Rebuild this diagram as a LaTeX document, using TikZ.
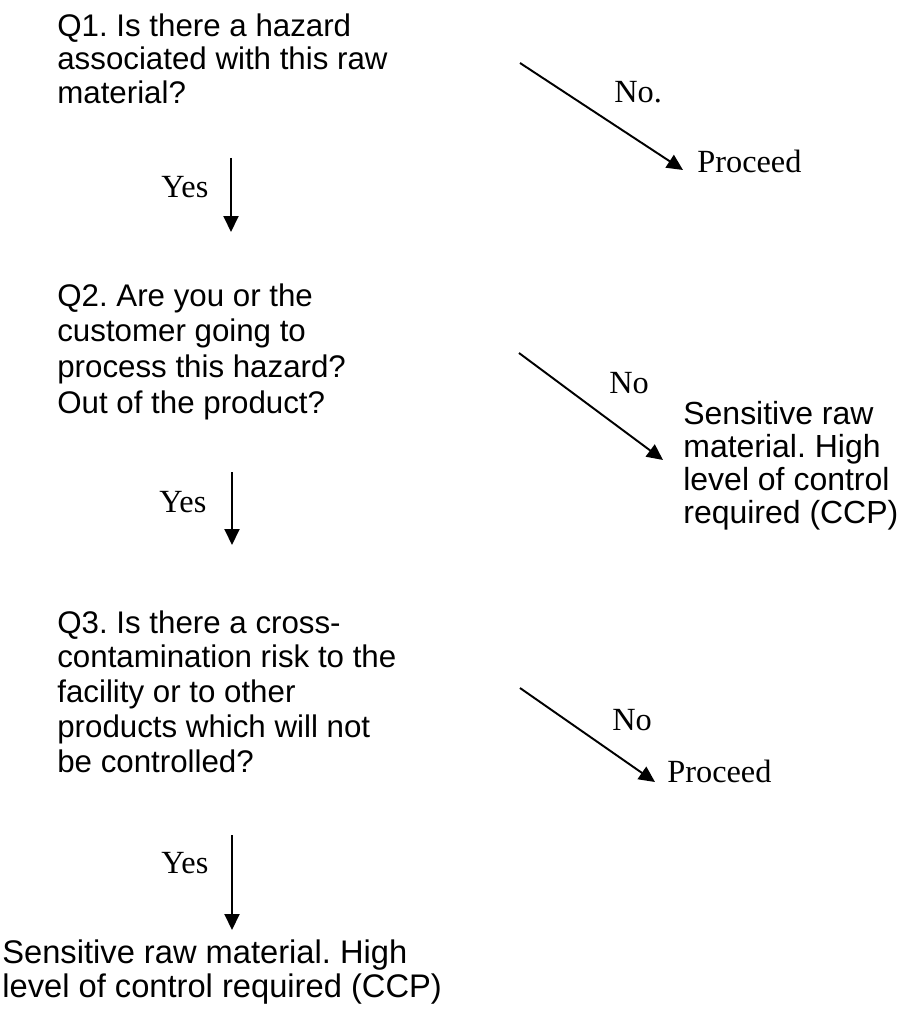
\documentclass[tikz,border=0pt]{standalone}
\usepackage{xcolor}
\usepackage{fontspec}
\setmainfont{Liberation Serif}
\setsansfont{Liberation Sans}
\usetikzlibrary{arrows.meta}
\frenchspacing

\begin{document}
\begin{tikzpicture}[x=0.02cm, y=-0.02cm]
      \tikzstyle{question} = [anchor=north west, inner sep=0pt, align=left, font=\sffamily\fontsize{17.8}{19.1}\selectfont]
      \tikzstyle{answer} = [anchor=base west, inner sep=0pt, font=\fontsize{18.4}{20}\selectfont]
      \tikzstyle{arrow} = [line width=1.1pt, -{Triangle[length=0.32cm, width=0.3cm]}]

      \useasboundingbox (0,0) rectangle (900,1013);

      % questions down the left side
      \node (q1) [question] at (57,13) {Q1. Is there a hazard\\associated with this raw\\material?};
      \node (q2) [question, font=\sffamily\fontsize{17.8}{20.4}\selectfont] at (57,283) {Q2. Are you or the\\customer going to\\process this hazard?\\Out of the product?};
      \node (q3) [question, font=\sffamily\fontsize{17.8}{19.9}\selectfont] at (57,610) {Q3. Is there a cross-\\contamination risk to the\\facility or to other\\products which will not\\be controlled?};
      \node (ccp) [question, font=\sffamily\fontsize{18.6}{19.4}\selectfont] at (2,939) {Sensitive raw material. High\\level of control required (CCP)};

      % outcomes on the right
      \node (proceed1) [answer] at (697,173) {Proceed};
      \node (ccpright) [question, font=\sffamily\fontsize{18.2}{18.8}\selectfont] at (683,401) {Sensitive raw\\material. High\\level of control\\required (CCP)};
      \node (proceed3) [answer] at (667,782) {Proceed};

      % labels
      \node (no1) [answer] at (614,103) {No.};
      \node (no2) [answer] at (609,393) {No};
      \node (no3) [answer] at (612,730) {No};
      \node (yes1) [answer] at (161,198) {Yes};
      \node (yes2) [answer] at (159,512) {Yes};
      \node (yes3) [answer] at (161,873) {Yes};

      % arrow ends
      \coordinate (yes1from) at (231,158);
      \coordinate (yes1to) at (231,232);
      \coordinate (yes2from) at (232,472);
      \coordinate (yes2to) at (232,545);
      \coordinate (yes3from) at (232,835);
      \coordinate (yes3to) at (232,930);
      \coordinate (no1from) at (520,63);
      \coordinate (no1to) at (683,170);
      \coordinate (no2from) at (519,353);
      \coordinate (no2to) at (663,460);
      \coordinate (no3from) at (520,688);
      \coordinate (no3to) at (655,782);

      \draw [arrow] (yes1from) -- (yes1to);
      \draw [arrow] (yes2from) -- (yes2to);
      \draw [arrow] (yes3from) -- (yes3to);
      \draw [arrow] (no1from) -- (no1to);
      \draw [arrow] (no2from) -- (no2to);
      \draw [arrow] (no3from) -- (no3to);
    \end{tikzpicture}
\end{document}
